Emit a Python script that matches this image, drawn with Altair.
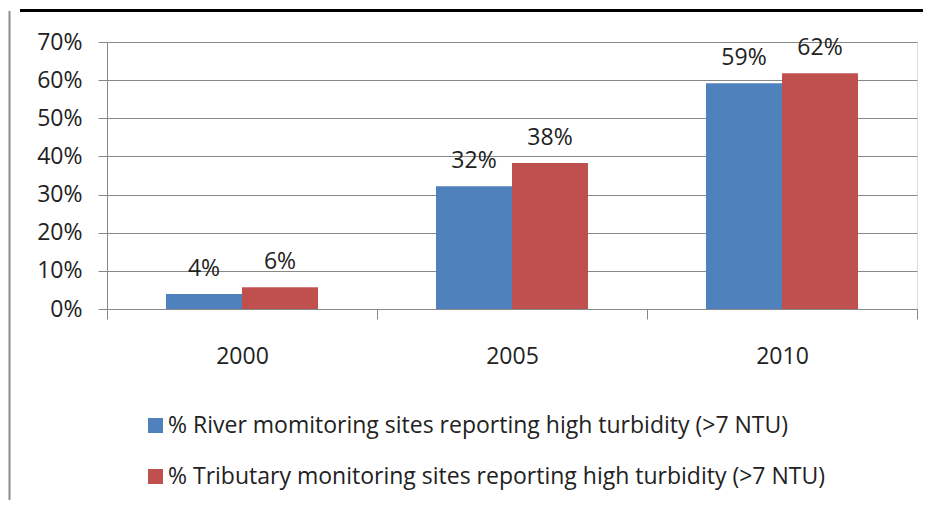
import altair as alt
import pandas as pd

years = ["2000", "2005", "2010"]
series = [
    "% River momitoring sites reporting high turbidity (>7 NTU)",
    "% Tributary monitoring sites reporting high turbidity (>7 NTU)",
]
river = [0.039, 0.322, 0.592]
tributary = [0.057, 0.383, 0.618]
colors = ["#4F81BD", "#C0504D"]
y_ticks = [0, 0.1, 0.2, 0.3, 0.4, 0.5, 0.6, 0.7]

rows = []
for i, y in enumerate(years):
    rows.append({"year": y, "series": series[0], "value": river[i]})
    rows.append({"year": y, "series": series[1], "value": tributary[i]})
df = pd.DataFrame(rows)

FONT = "Open Sans"
FS = 23
GRID = "#888888"
TXT = "#222222"

base = alt.Chart(df).encode(
    x=alt.X(
        "year:N",
        sort=years,
        scale=alt.Scale(paddingInner=0, paddingOuter=0),
        axis=alt.Axis(
            title=None,
            labelAngle=0,
            tickBand="extent",
            tickSize=10,
            labelPadding=26,
            domainColor=GRID,
            tickColor=GRID,
            labelFontSize=FS,
            labelFont=FONT,
            labelColor=TXT,
            grid=False,
        ),
    ),
    y=alt.Y(
        "value:Q",
        scale=alt.Scale(domain=[0, 0.7], nice=False, zero=True),
        axis=alt.Axis(
            title=None,
            values=y_ticks,
            tickCount=8,
            format=".0%",
            labelOverlap=False,
            tickSize=9,
            labelPadding=16,
            domainColor=GRID,
            tickColor=GRID,
            grid=True,
            gridColor=GRID,
            labelFontSize=FS,
            labelFont=FONT,
            labelColor=TXT,
        ),
    ),
    xOffset=alt.XOffset(
        "series:N", sort=series, scale=alt.Scale(paddingOuter=0.776, paddingInner=0)
    ),
)

bars = base.mark_bar().encode(
    color=alt.Color(
        "series:N",
        sort=series,
        scale=alt.Scale(domain=series, range=colors),
        legend=alt.Legend(
            title=None,
            orient="none",
            legendX=37,
            legendY=372,
            direction="vertical",
            symbolType="square",
            symbolSize=225,
            symbolStrokeWidth=0,
            labelFontSize=FS,
            labelFont=FONT,
            labelColor=TXT,
            labelOffset=1,
            rowPadding=27,
            labelLimit=800,
        ),
    ),
)

labels = base.mark_text(
    dy=-18, baseline="alphabetic", fontSize=FS, font=FONT, color=TXT
).encode(
    text=alt.Text("value:Q", format=".0%"),
)

one = alt.Data(values=[{"a": 1}])
left_border = alt.Chart(one).mark_rule(color="#8c8c8c", strokeWidth=2).encode(
    x=alt.value(-97.5), y=alt.value(-31), y2=alt.value(470)
)
top_border = alt.Chart(one).mark_rule(color="#000000", strokeWidth=3).encode(
    x=alt.value(-87), x2=alt.value(830), y=alt.value(-31.5)
)

chart = (
    alt.layer(bars, labels, left_border, top_border)
    .properties(
        width=810,
        height=267,
        autosize=alt.AutoSizeParams(type="none"),
        padding={"left": 99, "top": 34, "right": 6, "bottom": 191},
    )
    .configure_view(stroke=None)
    .configure_axis(labelOverlap=False)
    .configure(background="white")
)

chart.save("out.html", embed_options={"renderer": "svg", "actions": False})
